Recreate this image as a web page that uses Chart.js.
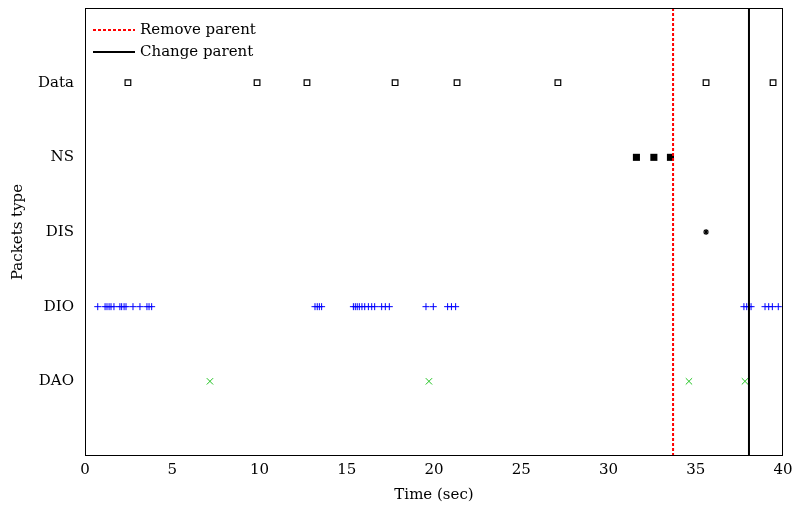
<!DOCTYPE html>
<html>
<head>
<meta charset="utf-8">
<script src="https://cdn.jsdelivr.net/npm/chart.js@4"></script>
<style>
    html, body { margin: 0; padding: 0; background: #fff; }
    #wrap { width: 795px; height: 511px; }
</style>
</head>
<body>
<div id="wrap"><canvas id="packetChart" width="795" height="511"></canvas></div>
<script>
// Packet types on the y axis (bottom to top)
const PACKET_TYPES = ['', 'DAO', 'DIO', 'DIS', 'NS', 'Data', ''];

// Send times (sec) per packet type
const dataTimes = [2.46, 9.86, 12.72, 17.77, 21.32, 27.1, 35.59, 39.43];
const nsTimes = [31.6, 32.6, 33.55];
const disTimes = [35.59];
const dioTimes = [
    0.73, 1.15, 1.26, 1.38, 1.49, 1.66, 2.0, 2.1, 2.24, 2.35, 2.75, 3.15, 3.55, 3.67, 3.82,
    13.18, 13.31, 13.43, 13.56,
    15.38, 15.49, 15.6, 15.72, 15.87, 16.03, 16.24, 16.43, 16.6,
    17.0, 17.21, 17.44, 19.54, 19.96, 20.78, 21.0, 21.24,
    37.76, 37.92, 38.05, 38.17, 38.97, 39.18, 39.39, 39.73
];
const daoTimes = [7.16, 19.71, 34.61, 37.82];

// Events (sec)
const removeParentTime = 33.7;
const changeParentTime = 38.05;

const FONT = "'DejaVu Serif', serif";

const toPoints = (times, level) => times.map(t => ({ x: t, y: level }));
const vLine = t => [{ x: t, y: 0 }, { x: t, y: 6 }];

// frame around the plot + legend in the top-left corner
const framePlugin = {
    id: 'frame',
    afterDraw(chart) {
        const { ctx, chartArea: a } = chart;
        ctx.save();
        ctx.strokeStyle = '#000';
        ctx.lineWidth = 1;
        ctx.strokeRect(a.left + 0.5, a.top + 0.5, a.right - a.left - 1, a.bottom - a.top - 1);

        const items = chart.data.datasets.filter(d => d.inLegend);
        items.forEach((d, i) => {
            const y = a.top + 22 + i * 22;
            ctx.beginPath();
            ctx.strokeStyle = d.borderColor;
            ctx.lineWidth = d.borderWidth;
            ctx.setLineDash(d.borderDash || []);
            ctx.moveTo(a.left + 8, y);
            ctx.lineTo(a.left + 50, y);
            ctx.stroke();
            ctx.setLineDash([]);
            ctx.fillStyle = '#000';
            ctx.font = '15px ' + FONT;
            ctx.textBaseline = 'middle';
            ctx.textAlign = 'left';
            ctx.fillText(d.label, a.left + 55, y);
        });
        ctx.restore();
    }
};

new Chart(document.getElementById('packetChart'), {
    type: 'scatter',
    data: {
        datasets: [
            {
                label: 'Remove parent', inLegend: true,
                data: vLine(removeParentTime), showLine: true,
                borderColor: '#ff0000', borderWidth: 2, borderDash: [3, 2],
                pointRadius: 0
            },
            {
                label: 'Change parent', inLegend: true,
                data: vLine(changeParentTime), showLine: true,
                borderColor: '#000000', borderWidth: 2,
                pointRadius: 0
            },
            {
                label: 'Data', data: toPoints(dataTimes, 5),
                pointStyle: 'rect', pointRadius: 4, borderWidth: 1.2,
                borderColor: '#000', backgroundColor: '#fff'
            },
            {
                label: 'NS', data: toPoints(nsTimes, 4),
                pointStyle: 'rect', pointRadius: 5, borderWidth: 0,
                borderColor: '#000', backgroundColor: '#000'
            },
            {
                label: 'DIS', data: toPoints(disTimes, 3),
                pointStyle: 'star', pointRadius: 3, borderWidth: 1.2,
                borderColor: '#000', backgroundColor: '#000'
            },
            {
                label: 'DIO', data: toPoints(dioTimes, 2),
                pointStyle: 'cross', pointRadius: 3.5, borderWidth: 1,
                borderColor: '#0000ff', backgroundColor: '#0000ff'
            },
            {
                label: 'DAO', data: toPoints(daoTimes, 1),
                pointStyle: 'crossRot', pointRadius: 4.5, borderWidth: 1,
                borderColor: '#22c322', backgroundColor: '#22c322'
            }
        ]
    },
    options: {
        responsive: false,
        animation: false,
        layout: { padding: { left: 0, right: 12, top: 8, bottom: 0 } },
        plugins: {
            legend: { display: false },
            tooltip: { enabled: false }
        },
        scales: {
            x: {
                type: 'linear', min: 0, max: 40,
                grid: { display: false, drawTicks: false, tickLength: 0 },
                border: { display: false },
                ticks: { stepSize: 5, color: '#000', padding: 5, maxRotation: 0, font: { family: FONT, size: 15 } },
                title: { display: true, text: 'Time (sec)', color: '#000', padding: { top: 0, bottom: 7 }, font: { family: FONT, size: 15 } },
                afterFit: s => { s.height = 55; s.paddingLeft = 0; s.paddingRight = 0; }
            },
            y: {
                type: 'linear', min: 0, max: 6,
                grid: { display: false, drawTicks: false, tickLength: 0 },
                border: { display: false },
                ticks: {
                    stepSize: 1, color: '#000', padding: 11,
                    font: { family: FONT, size: 15 },
                    callback: v => PACKET_TYPES[v] || ''
                },
                title: { display: true, text: 'Packets type', color: '#000', padding: { top: 9, bottom: 0 }, font: { family: FONT, size: 15 } },
                afterFit: s => { s.width = 85; s.paddingTop = 0; s.paddingBottom = 0; }
            }
        }
    },
    plugins: [framePlugin]
});
</script>
</body>
</html>
